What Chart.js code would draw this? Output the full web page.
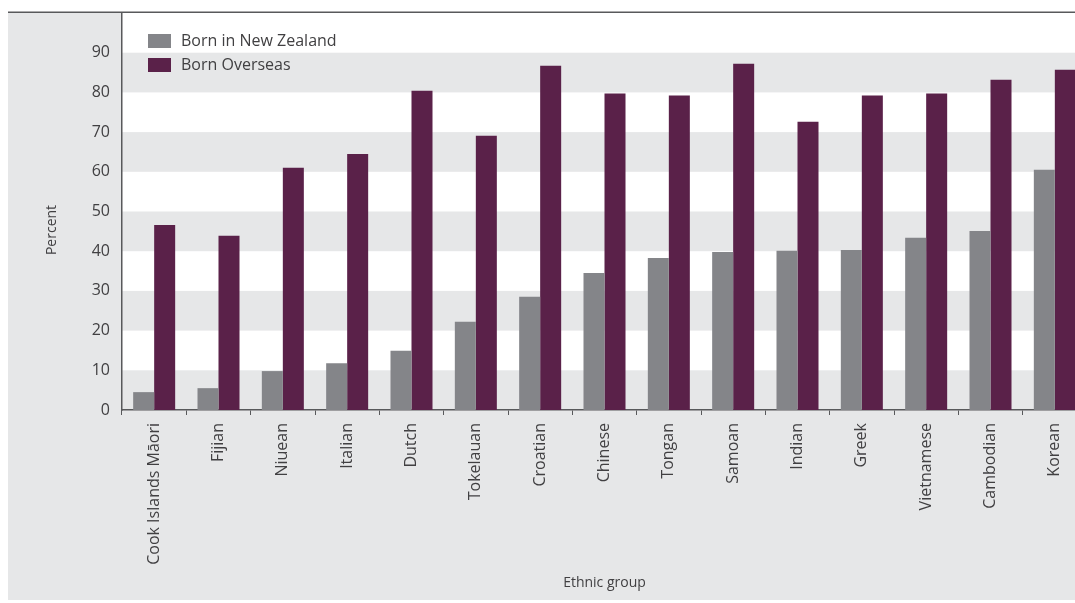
<!DOCTYPE html>
<html><head><meta charset="utf-8">
<script src="https://cdn.jsdelivr.net/npm/chart.js@4/dist/chart.umd.min.js"></script>
<style>
html,body{margin:0;padding:0;background:#fff;overflow:hidden;width:1075px;height:603px;}
#wrap{position:relative;width:1087px;height:603px;}
canvas{display:block;}
</style></head><body>
<div id="wrap"><canvas id="c" width="1087" height="603"></canvas></div>
<script>
const categories = ['Cook Islands Māori','Fijian','Niuean','Italian','Dutch','Tokelauan','Croatian','Chinese','Tongan','Samoan','Indian','Greek','Vietnamese','Cambodian','Korean'];
const bornNZ = [4.5,5.5,9.8,11.8,14.9,22.2,28.5,34.5,38.3,39.8,40.1,40.3,43.4,45.1,60.5];
const bornOverseas = [46.6,43.9,61.0,64.5,80.4,69.1,86.7,79.7,79.2,87.2,72.6,79.2,79.7,83.2,85.7];
const yTicks = [0,10,20,30,40,50,60,70,80,90];
const seriesLabels = ['Born in New Zealand','Born Overseas'];
const seriesColors = ['#848589','#5a2149'];

const FONT = '"Open Sans", "Noto Sans", sans-serif';
const TEXT = '#414042';
const BAND = '#e6e7e8';
const AXIS = '#58595b';

const decor = {
  id: 'decor',
  beforeDraw(chart) {
    const ctx = chart.ctx, ca = chart.chartArea, y = chart.scales.y;
    ctx.save();
    ctx.fillStyle = '#fff';
    ctx.fillRect(0, 0, chart.width, chart.height);
    ctx.fillStyle = BAND;
    ctx.fillRect(8, 12, chart.width - 8, 600 - 12);
    ctx.fillStyle = '#fff';
    ctx.fillRect(ca.left, ca.top, ca.right - ca.left, ca.bottom - ca.top);
    ctx.fillStyle = BAND;
    for (let i = 0; i + 1 < yTicks.length; i += 2) {
      const y0 = y.getPixelForValue(yTicks[i]);
      const y1 = y.getPixelForValue(yTicks[i + 1]);
      ctx.fillRect(ca.left, y1, ca.right - ca.left, y0 - y1);
    }
    ctx.fillStyle = AXIS;
    ctx.fillRect(8, 11.5, chart.width - 8, 1.5);
    ctx.restore();
  },
  afterDraw(chart) {
    const ctx = chart.ctx;
    ctx.save();
    ctx.font = '16px ' + FONT;
    ctx.textBaseline = 'middle';
    ctx.textAlign = 'left';
    chart.data.datasets.forEach((ds, i) => {
      const top = 34 + i * 24;
      ctx.fillStyle = ds.backgroundColor;
      ctx.fillRect(148, top, 23, 14);
      ctx.fillStyle = TEXT;
      ctx.fillText(ds.label, 181, top + 7);
    });
    ctx.font = '14px ' + FONT;
    ctx.textAlign = 'center';
    ctx.fillText('Ethnic group', (chart.chartArea.left + chart.chartArea.right) / 2, 583);
    ctx.translate(52, 230);
    ctx.rotate(-Math.PI / 2);
    ctx.fillText('Percent', 0, 0);
    ctx.restore();
  }
};

new Chart(document.getElementById('c'), {
  type: 'bar',
  data: {
    labels: categories,
    datasets: [
      { label: seriesLabels[0], data: bornNZ, backgroundColor: seriesColors[0], borderWidth: 0 },
      { label: seriesLabels[1], data: bornOverseas, backgroundColor: seriesColors[1], borderWidth: 0 }
    ]
  },
  options: {
    responsive: false,
    animation: false,
    events: [],
    layout: { padding: { top: 13, left: 0, right: 0, bottom: 0 } },
    datasets: { bar: { categoryPercentage: 0.653, barPercentage: 1.0 } },
    plugins: { legend: { display: false }, tooltip: { enabled: false }, title: { display: false } },
    scales: {
      x: {
        offset: true,
        grid: { display: true, offset: true, drawOnChartArea: false, drawTicks: true, tickLength: 5, color: AXIS, lineWidth: 1 },
        border: { display: true, color: AXIS, width: 1.5 },
        ticks: { color: TEXT, font: { family: FONT, size: 16 }, minRotation: 90, maxRotation: 90, padding: 8, autoSkip: false },
        afterFit(s) { s.height = 603 - 410; s.paddingLeft = 0; s.paddingRight = 0; s.paddingTop = 0; s.paddingBottom = 0; }
      },
      y: {
        min: 0, max: 100,
        afterBuildTicks(s) { s.ticks = yTicks.map(v => ({ value: v })); },
        grid: { display: false, drawTicks: false },
        border: { display: true, color: AXIS, width: 1.5 },
        ticks: { color: TEXT, font: { family: FONT, size: 16 }, padding: 12 },
        afterFit(s) { s.width = 122; s.paddingTop = 0; s.paddingBottom = 0; s.paddingLeft = 0; s.paddingRight = 0; }
      }
    }
  },
  plugins: [decor]
});
</script>
</body></html>
